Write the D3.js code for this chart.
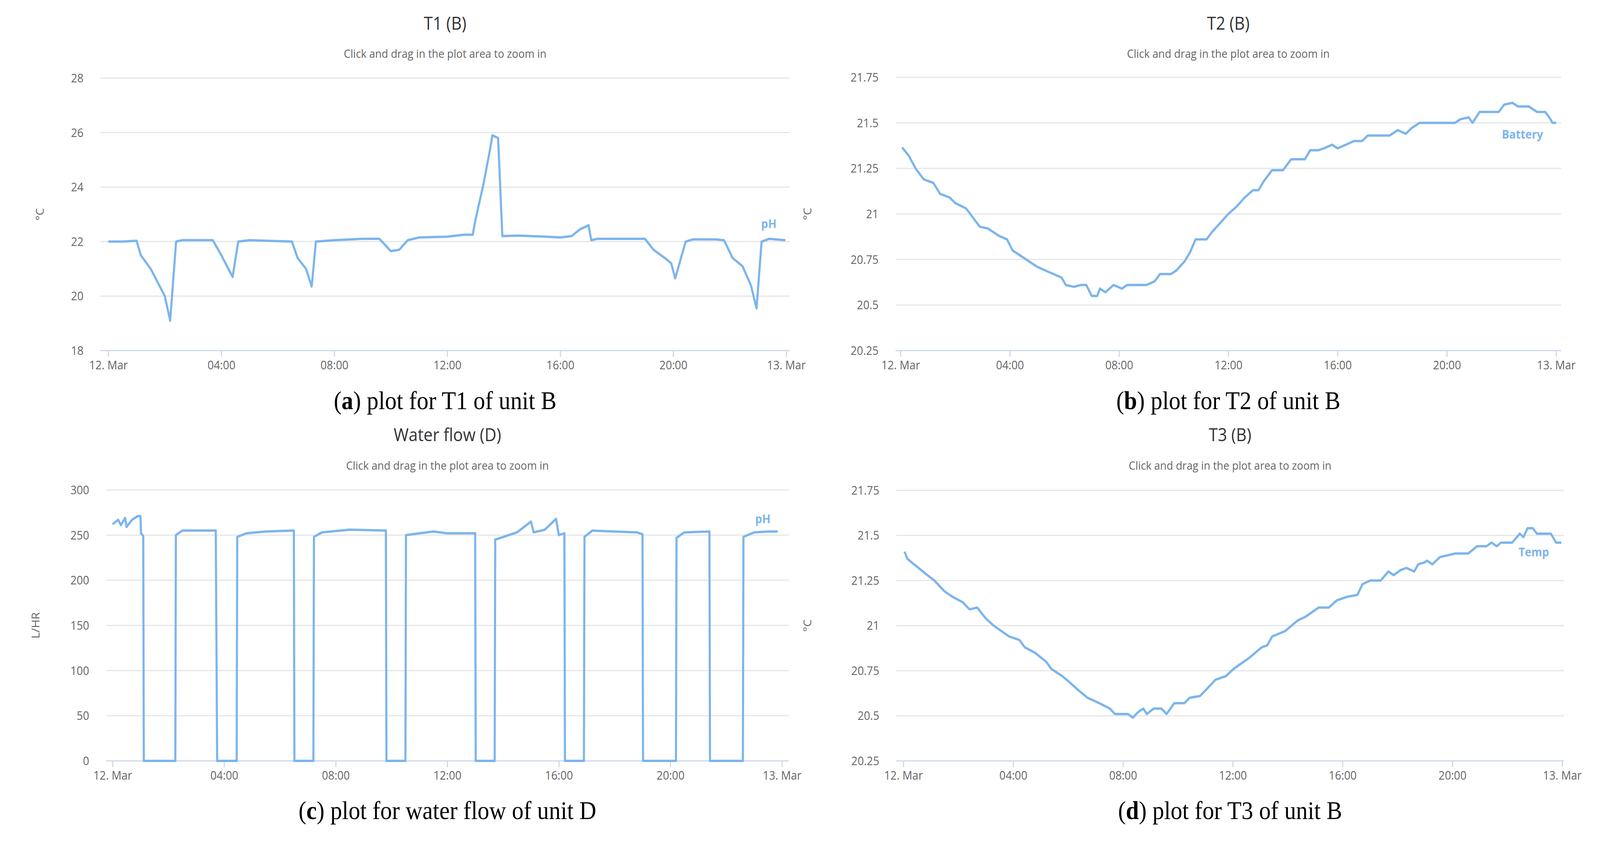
<!DOCTYPE html>
<html>
<head>
<meta charset="utf-8">
<script src="https://cdn.jsdelivr.net/npm/d3@7"></script>
<style>
  html, body { margin: 0; width: 100%; height: 100%; overflow: hidden; background: #fff; }
  svg { display: block; width: 100vw; height: 100vh; }
</style>
</head>
<body>
<svg id="chart" viewBox="0 0 4520 2208" preserveAspectRatio="none"></svg>
<script>
// hours since 12 Mar 00:00, value
var t1Hours = [0, 0.5, 1.0, 1.15, 1.5, 1.7, 2.0, 2.19, 2.4, 2.6, 3.0, 3.7, 4.0, 4.4, 4.6, 5.0, 6.5, 6.7, 7.0, 7.2, 7.35, 8, 9, 9.6, 10.0, 10.3, 10.6, 11, 12, 12.6, 12.9, 13.0, 13.3, 13.5, 13.6, 13.8, 13.95, 14.5, 15.5, 16.0, 16.4, 16.7, 17.0, 17.1, 17.3, 18, 19.0, 19.3, 19.7, 19.93, 20.07, 20.44, 20.7, 21.5, 21.8, 22.1, 22.45, 22.75, 22.95, 23.13, 23.4, 23.97];
var t1Values = [22.0, 22.0, 22.03, 21.5, 21.0, 20.6, 20.0, 19.1, 22.0, 22.05, 22.05, 22.05, 21.5, 20.7, 22.0, 22.05, 22.0, 21.4, 21.0, 20.35, 22.0, 22.05, 22.1, 22.1, 21.65, 21.7, 22.05, 22.15, 22.18, 22.25, 22.25, 22.8, 24.2, 25.3, 25.9, 25.8, 22.2, 22.22, 22.18, 22.15, 22.2, 22.45, 22.6, 22.05, 22.1, 22.1, 22.1, 21.7, 21.4, 21.2, 20.65, 22.0, 22.08, 22.08, 22.05, 21.4, 21.1, 20.4, 19.55, 22.0, 22.1, 22.05];

var t2Hours = [0.06, 0.3, 0.55, 0.85, 1.2, 1.45, 1.8, 2.0, 2.4, 2.6, 2.9, 3.2, 3.6, 3.9, 4.1, 4.6, 5.0, 5.3, 5.6, 5.9, 6.05, 6.35, 6.6, 6.8, 7.0, 7.2, 7.3, 7.5, 7.8, 8.1, 8.3, 9.0, 9.3, 9.5, 9.9, 10.1, 10.4, 10.6, 10.8, 11.2, 11.4, 11.7, 12.0, 12.3, 12.6, 12.9, 13.1, 13.3, 13.6, 14.0, 14.3, 14.6, 14.8, 15.0, 15.3, 15.5, 15.8, 16.0, 16.3, 16.6, 16.9, 17.1, 17.9, 18.2, 18.5, 18.7, 19.0, 20.0, 20.3, 20.5, 20.8, 20.94, 21.2, 21.9, 22.1, 22.4, 22.6, 23.0, 23.3, 23.6, 23.75, 23.87, 24.0];
var t2Values = [21.365, 21.32, 21.25, 21.19, 21.17, 21.11, 21.09, 21.06, 21.03, 20.99, 20.93, 20.92, 20.88, 20.86, 20.8, 20.75, 20.71, 20.69, 20.67, 20.65, 20.61, 20.6, 20.61, 20.61, 20.55, 20.55, 20.59, 20.57, 20.61, 20.59, 20.61, 20.61, 20.63, 20.67, 20.67, 20.69, 20.74, 20.79, 20.86, 20.86, 20.9, 20.95, 21.0, 21.04, 21.09, 21.13, 21.13, 21.18, 21.24, 21.24, 21.3, 21.3, 21.3, 21.35, 21.35, 21.36, 21.38, 21.36, 21.38, 21.4, 21.4, 21.43, 21.43, 21.46, 21.44, 21.47, 21.5, 21.5, 21.5, 21.52, 21.53, 21.5, 21.56, 21.56, 21.6, 21.61, 21.59, 21.59, 21.56, 21.56, 21.53, 21.5, 21.5];

var flowHours = [0.0, 0.2, 0.3, 0.45, 0.5, 0.7, 0.9, 1.0, 1.02, 1.1, 1.12, 2.25, 2.27, 2.5, 3.0, 3.7, 3.75, 4.45, 4.47, 4.8, 5.5, 6.5, 6.52, 7.2, 7.22, 7.5, 8.5, 9.8, 9.82, 10.5, 10.52, 11.0, 11.5, 12.0, 13.0, 13.02, 13.7, 13.72, 14.5, 15.0, 15.1, 15.5, 15.9, 16.0, 16.2, 16.22, 16.9, 16.92, 17.2, 18.0, 18.8, 19.0, 19.02, 20.2, 20.22, 20.5, 21.4, 21.42, 22.6, 22.62, 23.0, 23.5, 23.85];
var flowValues = [262, 267, 261, 269, 259, 267, 271, 271, 252, 249, 0, 0, 250, 255, 255, 255, 0, 0, 248, 252, 254, 255, 0, 0, 248, 253, 256, 255, 0, 0, 250, 252, 254, 252, 252, 0, 0, 245, 253, 265, 253, 256, 268, 250, 252, 0, 0, 248, 255, 254, 253, 251, 0, 0, 247, 253, 254, 0, 0, 248, 253, 254, 254];

var t3Hours = [0.04, 0.15, 0.47, 0.79, 1.13, 1.5, 1.79, 2.16, 2.41, 2.69, 3.0, 3.29, 3.85, 4.23, 4.42, 4.79, 5.2, 5.39, 5.79, 6.1, 6.39, 6.71, 7.14, 7.52, 7.71, 8.18, 8.36, 8.55, 8.74, 8.87, 9.12, 9.4, 9.59, 9.87, 10.24, 10.43, 10.81, 11.0, 11.37, 11.75, 12.03, 12.59, 13.06, 13.25, 13.44, 13.91, 14.38, 14.66, 15.13, 15.5, 15.79, 16.17, 16.54, 16.73, 17.01, 17.39, 17.67, 17.86, 18.14, 18.33, 18.61, 18.76, 18.98, 19.08, 19.27, 19.55, 19.83, 20.11, 20.58, 20.9, 21.24, 21.43, 21.62, 21.77, 22.18, 22.46, 22.59, 22.74, 22.93, 23.08, 23.59, 23.78, 23.97];
var t3Values = [21.41, 21.37, 21.33, 21.29, 21.25, 21.19, 21.16, 21.13, 21.09, 21.1, 21.04, 21.0, 20.94, 20.92, 20.88, 20.85, 20.8, 20.76, 20.72, 20.68, 20.64, 20.6, 20.57, 20.54, 20.51, 20.51, 20.49, 20.52, 20.54, 20.51, 20.54, 20.54, 20.51, 20.57, 20.57, 20.6, 20.61, 20.64, 20.7, 20.72, 20.76, 20.82, 20.88, 20.89, 20.94, 20.97, 21.03, 21.05, 21.1, 21.1, 21.14, 21.16, 21.17, 21.23, 21.25, 21.25, 21.3, 21.28, 21.31, 21.32, 21.3, 21.34, 21.35, 21.36, 21.34, 21.38, 21.39, 21.4, 21.4, 21.44, 21.44, 21.46, 21.44, 21.46, 21.46, 21.51, 21.49, 21.54, 21.54, 21.51, 21.51, 21.46, 21.46];

var xTickLabels = ['12. Mar', '04:00', '08:00', '12:00', '16:00', '20:00', '13. Mar'];
var tempTicks = [18, 20, 22, 24, 26, 28];
var smallTempTicks = [20.25, 20.5, 20.75, 21, 21.25, 21.5, 21.75];
var flowTicks = [0, 50, 100, 150, 200, 250, 300];

var panels = [
  { title: 'T1 (B)', letter: 'a', caption: ' plot for T1 of unit B', unit: '°C', label: 'pH',
    hours: t1Hours, values: t1Values, ticks: tempTicks,
    left: 306, right: 2221, top: 200, bottom: 898, titleY: 76, subY: 148, capY: 1048,
    gridX0: 284, gridX1: 2231, unitX: 124, labelPos: [2172, 584] },
  { title: 'T2 (B)', letter: 'b', caption: ' plot for T2 of unit B', unit: '°C', label: 'Battery',
    hours: t2Hours, values: t2Values, ticks: smallTempTicks,
    left: 2544, right: 4396, top: 198, bottom: 898, titleY: 76, subY: 148, capY: 1048,
    gridX0: 2530, gridX1: 4410, unitX: 2292, labelPos: [4301, 355] },
  { title: 'Water flow (D)', letter: 'c', caption: ' plot for water flow of unit D', unit: 'L/HR', label: 'pH',
    hours: flowHours, values: flowValues, ticks: flowTicks,
    left: 318, right: 2209, top: 1255, bottom: 1949, titleY: 1130, subY: 1203, capY: 2098,
    gridX0: 300, gridX1: 2228, unitX: 112, labelPos: [2155, 1340] },
  { title: 'T3 (B)', letter: 'd', caption: ' plot for T3 of unit B', unit: '°C', label: 'Temp',
    hours: t3Hours, values: t3Values, ticks: smallTempTicks,
    left: 2552, right: 4413, top: 1256, bottom: 1949, titleY: 1130, subY: 1203, capY: 2098,
    gridX0: 2532, gridX1: 4418, unitX: 2292, labelPos: [4333, 1425] }
];

var svg = d3.select('#chart');
var lineColor = '#7cb5ec';

panels.forEach(function(p) {
  var g = svg.append('g');
  var x = d3.scaleLinear().domain([0, 24]).range([p.left, p.right]);
  var y = d3.scaleLinear().domain([p.ticks[0], p.ticks[p.ticks.length - 1]]).range([p.bottom, p.top]);
  var cx = (p.gridX0 + p.gridX1) / 2;

  g.append('text').attr('x', cx).attr('y', p.titleY).attr('text-anchor', 'middle')
    .attr('font-family', 'Open Sans').attr('font-size', 46).attr('fill', '#333').text(p.title);
  g.append('text').attr('x', cx).attr('y', p.subY).attr('text-anchor', 'middle')
    .attr('font-family', 'Open Sans').attr('font-size', 30).attr('fill', '#666')
    .text('Click and drag in the plot area to zoom in');

  // grid lines
  g.selectAll('.grid').data(p.ticks.slice(1)).enter().append('line')
    .attr('x1', p.gridX0).attr('x2', p.gridX1)
    .attr('y1', function(d) { return y(d); }).attr('y2', function(d) { return y(d); })
    .attr('stroke', '#e6e6e6').attr('stroke-width', 3);

  // y labels
  g.selectAll('.ylab').data(p.ticks).enter().append('text')
    .attr('x', p.gridX0 - 48).attr('y', function(d) { return y(d) + 11; })
    .attr('text-anchor', 'end').attr('font-family', 'Open Sans').attr('font-size', 31)
    .attr('fill', '#666').text(function(d) { return d; });

  g.append('text').attr('transform', 'translate(' + p.unitX + ',' + (p.top + p.bottom) / 2 + ') rotate(-90)')
    .attr('text-anchor', 'middle').attr('font-family', 'Open Sans').attr('font-size', 30)
    .attr('fill', '#666').text(p.unit);

  // x axis
  var axis = d3.axisBottom(x).tickValues([0, 4, 8, 12, 16, 20, 24])
    .tickFormat(function(d, i) { return xTickLabels[i]; }).tickSize(16).tickPadding(10);
  var ax = g.append('g').attr('transform', 'translate(0,' + p.bottom + ')').call(axis);
  ax.select('.domain').attr('d', 'M' + p.gridX0 + ',0H' + p.gridX1).attr('stroke', '#ccd6eb').attr('stroke-width', 3);
  ax.selectAll('.tick line').attr('stroke', '#ccd6eb').attr('stroke-width', 3);
  ax.selectAll('.tick text').attr('font-family', 'Open Sans').attr('font-size', 31).attr('fill', '#666');

  var line = d3.line().x(function(d) { return x(d[0]); }).y(function(d) { return y(d[1]); });
  g.append('path').datum(d3.zip(p.hours, p.values)).attr('d', line)
    .attr('fill', 'none').attr('stroke', lineColor).attr('stroke-width', 6).attr('stroke-linejoin', 'round');

  g.append('text').attr('x', p.labelPos[0]).attr('y', p.labelPos[1]).attr('text-anchor', 'middle')
    .attr('font-family', 'Open Sans').attr('font-weight', 'bold').attr('font-size', 31)
    .attr('fill', lineColor).text(p.label);

  // caption
  var cap = g.append('text').attr('x', cx).attr('y', p.capY).attr('text-anchor', 'middle')
    .attr('font-family', 'Liberation Serif').attr('font-size', 66).attr('fill', '#000');
  cap.append('tspan').text('(');
  cap.append('tspan').attr('font-weight', 'bold').text(p.letter);
  cap.append('tspan').text(')' + p.caption);
});
</script>
</body>
</html>
